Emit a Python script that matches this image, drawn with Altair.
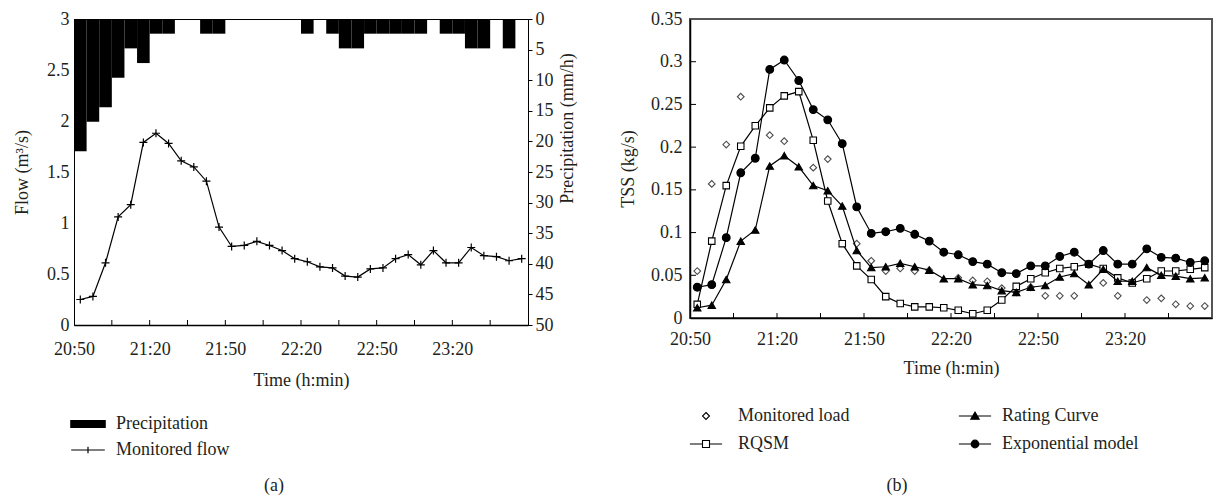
import json
import altair as alt
import pandas as pd

# ---------------- data ----------------
N = 36  # 5-minute steps starting 20:50
tick_labels = ["20:50", "21:20", "21:50", "22:20", "22:50", "23:20"]

precip = [21.6, 16.8, 14.4, 9.6, 4.8, 7.2, 2.4, 2.4, 0, 0, 2.4, 2.4,
          0, 0, 0, 0, 0, 0, 2.4, 0, 2.4, 4.8, 4.8, 2.4,
          2.4, 2.4, 2.4, 2.4, 0, 2.4, 2.4, 4.8, 4.8, 0, 4.8, 0]
flow = [0.25, 0.28, 0.61, 1.06, 1.18, 1.79, 1.88, 1.78, 1.61, 1.55, 1.41, 0.96,
        0.77, 0.78, 0.82, 0.78, 0.73, 0.65, 0.62, 0.57, 0.56, 0.48, 0.47, 0.55,
        0.56, 0.65, 0.69, 0.59, 0.73, 0.61, 0.61, 0.76, 0.68, 0.67, 0.63, 0.65]

load = [0.055, 0.157, 0.203, 0.259, None, 0.214, 0.207, None, 0.176, 0.186, None, 0.087,
        0.067, 0.055, 0.058, 0.055, 0.056, None, 0.047, 0.044, 0.043, 0.035, 0.030, 0.036,
        0.026, 0.026, 0.026, None, 0.041, 0.026, None, 0.021, 0.023, 0.016, 0.014, 0.014]
rqsm = [0.016, 0.090, 0.155, 0.201, 0.225, 0.246, 0.260, 0.265, 0.208, 0.137, 0.087, 0.061,
        0.045, 0.025, 0.017, 0.013, 0.013, 0.012, 0.009, 0.005, 0.009, 0.021, 0.037, 0.046,
        0.053, 0.058, 0.060, 0.063, 0.058, 0.047, 0.041, 0.046, 0.055, 0.055, 0.057, 0.059]
rating = [0.012, 0.015, 0.045, 0.090, 0.103, 0.178, 0.190, 0.177, 0.155, 0.149, 0.131, 0.079,
          0.059, 0.060, 0.064, 0.060, 0.056, 0.046, 0.046, 0.039, 0.038, 0.032, 0.030, 0.036,
          0.038, 0.048, 0.052, 0.039, 0.057, 0.043, 0.043, 0.059, 0.050, 0.049, 0.046, 0.047]
expo = [0.036, 0.039, 0.094, 0.170, 0.187, 0.291, 0.302, 0.278, 0.244, 0.232, 0.204, 0.130,
        0.099, 0.101, 0.105, 0.098, 0.090, 0.077, 0.074, 0.066, 0.063, 0.053, 0.052, 0.061,
        0.061, 0.072, 0.077, 0.063, 0.079, 0.063, 0.063, 0.081, 0.071, 0.070, 0.065, 0.067]

flow_ticks = [0, 0.5, 1, 1.5, 2, 2.5, 3]
precip_ticks = [0, 5, 10, 15, 20, 25, 30, 35, 40, 45, 50]
tss_ticks = [0, 0.05, 0.1, 0.15, 0.2, 0.25, 0.3, 0.35]
x_minor = list(range(3, N, 3))

left_names = ["Precipitation", "Monitored flow"]
right_names_a = ["Monitored load", "RQSM"]
right_names_b = ["Rating Curve", "Exponential model"]

# ---------------- styling ----------------
FONT = "Liberation Serif"
TXT = "#231f20"
FS = 18
LW, LH = 454, 306
RW, RH = 522, 299

idx = list(range(N))
df = pd.DataFrame({"x": [i + 0.5 for i in idx], "x0": idx, "x1": [i + 1 for i in idx],
                   "p0": [0] * N,
                   "precip": precip, "flow": flow, "load": load, "rqsm": rqsm,
                   "rating": rating, "expo": expo})
xt_df = pd.DataFrame({"t": x_minor})
yt_df = pd.DataFrame({"v": tss_ticks[1:-1]})

xs = alt.Scale(domain=[0, N], nice=False, zero=False)
XLAB = f"datum.value % 6 == 0 ? {json.dumps(tick_labels)}[datum.value / 6] : ''"


def xaxis(lpad, tpad):
    return alt.Axis(values=list(range(0, N, 3)), labelExpr=XLAB, ticks=False, grid=False,
                    labelFlush=False, labelOverlap=False, labelPadding=lpad,
                    domainColor="black", domainWidth=1.3,
                    title="Time (h:min)", titlePadding=tpad)


# ---------------- left panel ----------------
XL_AX = xaxis(15, 13)


def XL(field):
    return alt.X(f"{field}:Q", scale=xs, axis=XL_AX)


FLOW_AX = alt.Axis(orient="left", values=flow_ticks, format="~g", ticks=False,
                   labelPadding=5, domainColor="black", grid=False,
                   title="Flow (m³/s)", titlePadding=15)
flow_scale = alt.Scale(domain=[0, 3], nice=False)

bars = alt.Chart(df).transform_filter("datum.precip > 0").mark_rect(color="black").encode(
    x=XL("x0"),
    x2="x1:Q",
    y=alt.Y("p0:Q", scale=alt.Scale(domain=[0, 50], reverse=True, nice=False),
            axis=alt.Axis(orient="right", values=precip_ticks, tickSize=4, tickColor="black",
                          labelPadding=3, domainColor="black", grid=False,
                          title="Precipitation (mm/h)", titleAngle=270,
                          titleBaseline="top", titleY=109, titlePadding=5)),
    y2="precip:Q",
)

flow_line = alt.Chart(df).mark_line(
    color="black", strokeWidth=1.2,
    point=alt.OverlayMarkDef(shape="M-1,0H1M0,-1V1", size=64, filled=False,
                             color="black", strokeWidth=1.2),
).encode(
    x=XL("x"),
    y=alt.Y("flow:Q", scale=flow_scale, axis=FLOW_AX),
)

left_ticks = alt.Chart(xt_df).mark_rule(color="black", strokeWidth=1).encode(
    x=XL("t"), y=alt.value(LH), y2=alt.value(LH - 5))

left_leg = alt.Chart(pd.DataFrame({"name": left_names})).mark_point(
    opacity=0, filled=True, fill="black", stroke="black", strokeWidth=1.2).encode(
    shape=alt.Shape("name:N",
                    scale=alt.Scale(domain=left_names,
                                    range=["M-2.45,-0.5H2.45V0.5H-2.45Z",
                                           "M-2.4,0H2.4M0,-0.45V0.45"]),
                    legend=alt.Legend(title=None, orient="none", legendX=5, legendY=396,
                                      direction="vertical", symbolSize=196,
                                      symbolStrokeWidth=1.2, symbolOpacity=1,
                                      labelFont=FONT, labelFontSize=FS, labelColor=TXT,
                                      labelOffset=19, rowPadding=8, labelLimit=400)))

left = alt.layer(bars, left_ticks, flow_line, left_leg).resolve_scale(
    y="independent").properties(
    width=LW, height=LH,
    title=alt.TitleParams("(a)", orient="bottom", anchor="middle", frame="group",
                          dx=-27, offset=18, fontSize=FS, fontWeight="normal"),
    view=alt.ViewBackground(stroke="black", strokeWidth=1))

# ---------------- right panel ----------------
XR_AX = xaxis(12, 11)
ys = alt.Scale(domain=[0, 0.35], nice=False)
YR_AX = alt.Axis(values=tss_ticks, format="~g", ticks=False, labelPadding=8,
                 domainColor="black", domainWidth=1.5, grid=False,
                 title="TSS (kg/s)", titlePadding=13)


def XR(field):
    return alt.X(f"{field}:Q", scale=xs, axis=XR_AX)


def YR(field):
    return alt.Y(f"{field}:Q", scale=ys, axis=YR_AX)


base = alt.Chart(df)

diam = base.transform_filter("isValid(datum.load)").mark_point(
    shape="diamond", size=45, filled=True, fill="white", stroke="black", strokeWidth=1.1).encode(
    x=XR("x"), y=YR("load"))


def series(field, shape, fill, size):
    return base.mark_line(
        color="black", strokeWidth=1.2,
        point=alt.OverlayMarkDef(shape=shape, size=size, filled=True, fill=fill,
                                 stroke="black", strokeWidth=1.1),
    ).encode(x=XR("x"), y=YR(field))


rq = series("rqsm", "square", "white", 42)
rc = series("rating", "triangle-up", "black", 55)
ex = series("expo", "circle", "black", 60)

r_xticks = alt.Chart(xt_df).mark_rule(color="black", strokeWidth=1).encode(
    x=XR("t"), y=alt.value(RH), y2=alt.value(RH - 5))
r_yticks = alt.Chart(yt_df).mark_rule(color="black", strokeWidth=1).encode(
    y=YR("v"), x=alt.value(0), x2=alt.value(6))


def leg(x, y, lo):
    return alt.Legend(title=None, orient="none", legendX=x, legendY=y, direction="vertical",
                      symbolSize=196, symbolStrokeWidth=1.1, symbolOpacity=1,
                      labelFont=FONT, labelFontSize=FS, labelColor=TXT,
                      labelOffset=lo, rowPadding=10, labelLimit=400)


leg_a = alt.Chart(pd.DataFrame({"name": right_names_a})).mark_point(
    opacity=0, filled=True, fill="white", stroke="black", strokeWidth=1.1).encode(
    shape=alt.Shape("name:N",
                    scale=alt.Scale(domain=right_names_a,
                                    range=["M0,-0.5L0.5,0L0,0.5L-0.5,0Z",
                                           "M-2.3,0H-0.5M0.5,0H2.3M-0.5,-0.5H0.5V0.5H-0.5Z"]),
                    legend=leg(7, 388, 23)))
leg_b = alt.Chart(pd.DataFrame({"name2": right_names_b})).mark_point(
    opacity=0, filled=True, fill="black", stroke="black", strokeWidth=1.1).encode(
    shape=alt.Shape("name2:N",
                    scale=alt.Scale(domain=right_names_b,
                                    range=["M-2.3,0H2.3M0,-0.55L0.6,0.45L-0.6,0.45Z",
                                           "M-2.3,0H2.3M-0.55,0A0.55,0.55,0,1,0,0.55,0A0.55,0.55,0,1,0,-0.55,0Z"]),
                    legend=leg(276, 388, 18)))

right = alt.layer(diam, rq, rc, ex, r_xticks, r_yticks, leg_a, leg_b).resolve_scale(
    shape="independent").properties(
    width=RW, height=RH,
    title=alt.TitleParams("(b)", orient="bottom", anchor="middle", frame="group",
                          dx=-54, offset=24, fontSize=FS, fontWeight="normal"),
    view=alt.ViewBackground(stroke="#555555", strokeWidth=2))

chart = alt.hconcat(left, right, spacing=41).resolve_scale(
    x="independent", y="independent", shape="independent").properties(
    padding={"left": 5, "top": 1, "right": 0, "bottom": 0}
).configure_axis(
    labelFont=FONT, titleFont=FONT, labelFontSize=FS, titleFontSize=FS,
    labelColor=TXT, titleColor=TXT, titleFontWeight="normal"
).configure_title(font=FONT, color=TXT)

chart.save("out.html", embed_options={"renderer": "svg", "actions": False})
